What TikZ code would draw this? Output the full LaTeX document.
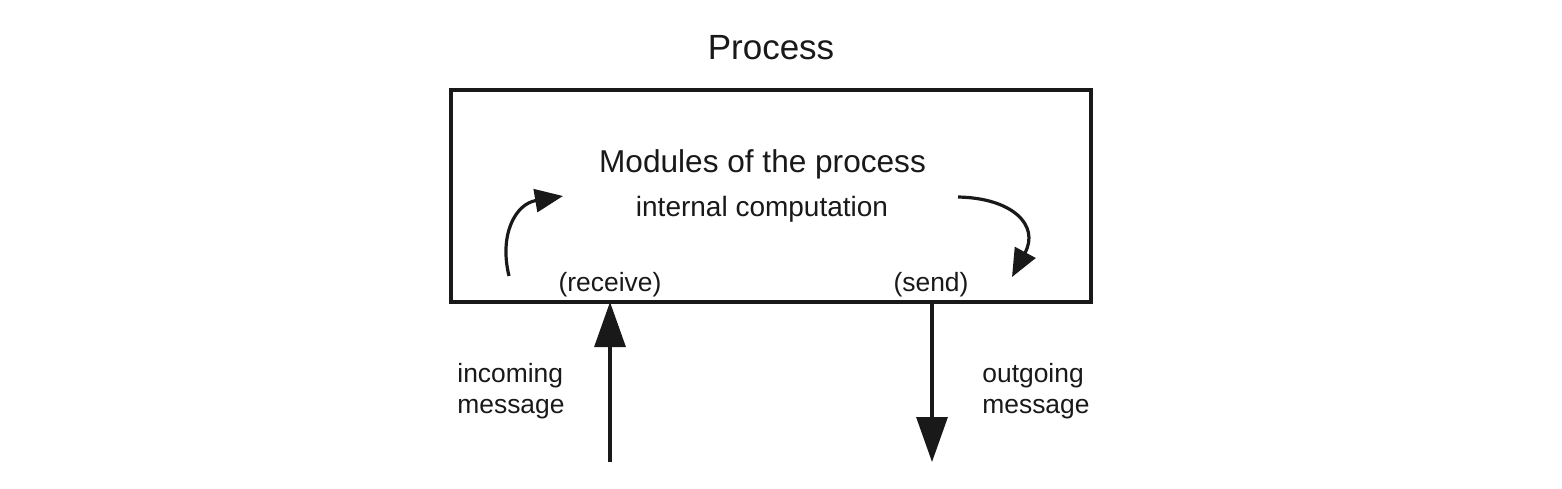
\documentclass[tikz,border=0pt]{standalone}
\usepackage{fontspec}
\setmainfont{Liberation Sans}
\usetikzlibrary{arrows.meta}
\begin{document}
\begin{tikzpicture}[x=0.5pt,y=-0.5pt,
  lbl/.style={inner sep=0, anchor=base, text=black!90},
  wire/.style={line width=1.6pt, draw=black!90},
  bigtip/.style={-{Triangle[length=22.5pt,width=15.5pt]}},
  smalltip/.style={-{Triangle[length=14pt,width=11.5pt]}}]
\useasboundingbox[fill=white] (0,0) rectangle (1562,488);
\node[draw=black!90, line width=1.6pt, minimum width=320pt, minimum height=106pt,
      inner sep=0, outer sep=0] (box) at (771,196) {};
% external messages
\coordinate (inB) at (610,462);
\draw[wire,bigtip] (inB) -- (inB |- box.south);
\coordinate (outB) at (932,462);
\draw[wire,bigtip] (outB |- box.south) -- (outB);
% internal curved arrows
\coordinate (r0) at (509,276);
\coordinate (r1) at (563,196);
\draw[wire,smalltip] (r0) .. controls (499,235) and (515,204) .. (r1);
\coordinate (s0) at (958,197);
\coordinate (s1) at (1012,277);
\draw[wire,smalltip] (s0) .. controls (1012,198) and (1040,225) .. (s1);
% texts
\node[lbl, font=\fontsize{17.5}{21}\selectfont] (title) at (771,59.5) {Process};
\node[lbl, font=\fontsize{15.8}{19}\selectfont] (mods) at (762.5,172.5) {Modules of the process};
\node[lbl, font=\fontsize{14}{17}\selectfont] (comp) at (762,216) {internal computation};
\node[lbl, font=\fontsize{13.2}{15.5}\selectfont] (recv) at (610,291) {(receive)};
\node[lbl, font=\fontsize{13.2}{15.5}\selectfont] (send) at (931,291) {(send)};
\node[lbl, anchor=base west, align=left, font=\fontsize{13.2}{15.5}\selectfont] (inc) at (457,413) {incoming\\message};
\node[lbl, anchor=base west, align=left, font=\fontsize{13.2}{15.5}\selectfont] (outg) at (982,413) {outgoing\\message};
\end{tikzpicture}
\end{document}
